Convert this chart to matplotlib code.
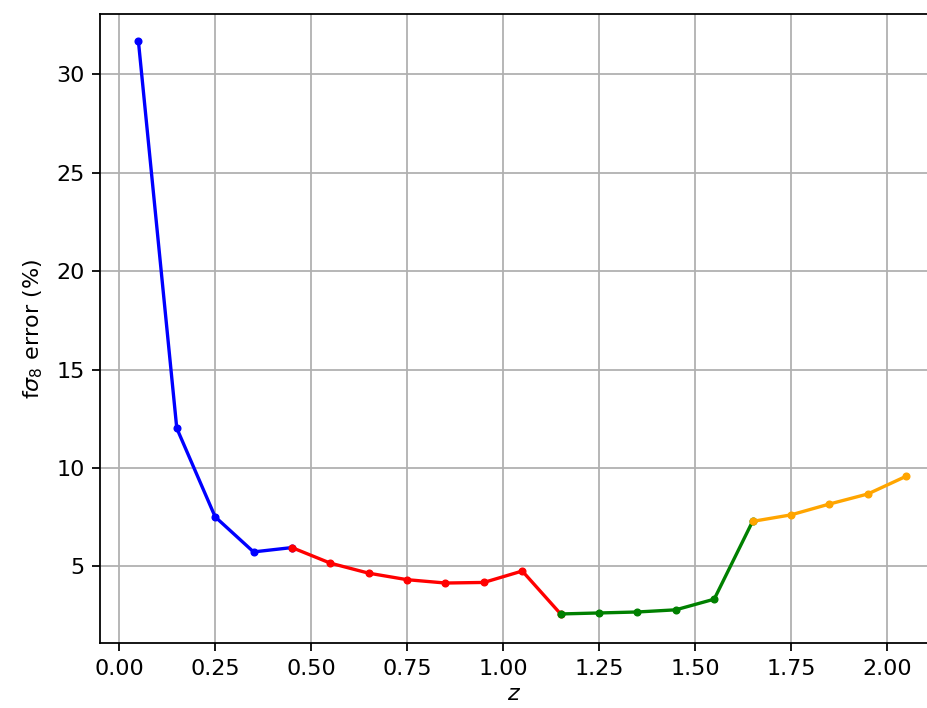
import matplotlib
matplotlib.use("Agg")
import matplotlib.pyplot as plt

# Redshift bins and fσ8 errors (%) per survey segment
z_blue = [0.05, 0.15, 0.25, 0.35, 0.45]
err_blue = [31.68, 12.02, 7.52, 5.74, 5.96]

z_red = [0.45, 0.55, 0.65, 0.75, 0.85, 0.95, 1.05, 1.15]
err_red = [5.96, 5.17, 4.66, 4.33, 4.16, 4.19, 4.77, 2.59]

z_green = [1.15, 1.25, 1.35, 1.45, 1.55, 1.65]
err_green = [2.59, 2.64, 2.69, 2.80, 3.34, 7.29]

z_orange = [1.65, 1.75, 1.85, 1.95, 2.05]
err_orange = [7.29, 7.62, 8.17, 8.68, 9.58]

segments = [
    (z_blue, err_blue, "blue"),
    (z_red, err_red, "red"),
    (z_green, err_green, "green"),
    (z_orange, err_orange, "orange"),
]

scale = 1.6
plt.rcParams.update({
    "font.size": 10 * scale,
    "axes.linewidth": 0.8 * scale,
    "xtick.major.width": 0.8 * scale,
    "ytick.major.width": 0.8 * scale,
    "xtick.major.size": 3.5 * scale,
    "ytick.major.size": 3.5 * scale,
    "xtick.major.pad": 3.5 * scale,
    "ytick.major.pad": 3.5 * scale,
})

fig = plt.figure(figsize=(9.28, 7.08), dpi=100)
# The reference is cropped on the right: the plot area runs to the figure edge
ax = fig.add_axes([100 / 928, (708 - 643.3) / 708, 1 - 100 / 928, (643.3 - 14) / 708])

for zs, errs, c in segments:
    ax.plot(zs, errs, ".-", color=c, linewidth=1.5 * scale, markersize=6 * scale)

ax.set_xlim(-0.05, 2.107)
ax.set_ylim(1.1, 33.05)
ax.spines["right"].set_visible(False)
ax.set_xticks([0.0, 0.25, 0.5, 0.75, 1.0, 1.25, 1.5, 1.75, 2.0])
ax.set_yticks([5, 10, 15, 20, 25, 30])
ax.grid(True, color="#b0b0b0", linewidth=0.8 * scale)
ax.set_xlabel("$z$", labelpad=4)
ax.set_ylabel(r"f$\sigma_8$ error (%)", labelpad=8)

fig.savefig("out.png", dpi=100)
